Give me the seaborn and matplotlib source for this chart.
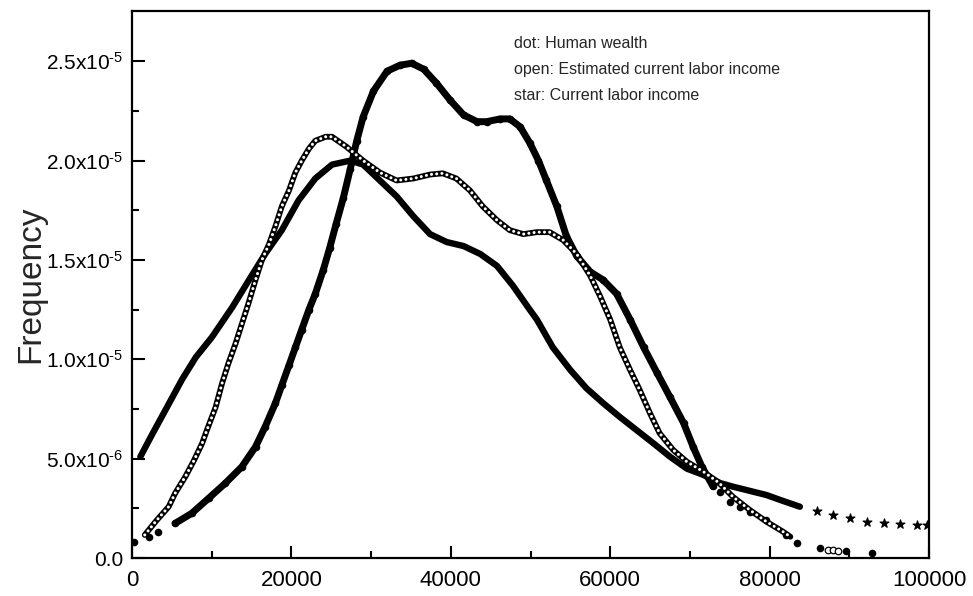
import numpy as np
import pandas as pd
import matplotlib
matplotlib.use("Agg")
import matplotlib.pyplot as plt
import seaborn as sns

# values (x in thousands, y in units of 1e-6)
dot_x = [0.2, 2.1, 3.3, 5.4, 7.5, 9.6, 11.7, 13.8, 15.5, 16.7, 18.0, 18.8, 19.7, 20.5, 21.3,
         22.2, 23.0, 24.0, 24.8, 25.6, 26.5, 27.4, 28.2, 29.0, 30.3, 32.0, 33.6, 35.1, 36.6,
         38.2, 39.9, 41.6, 43.3, 44.5, 46.2, 47.4, 48.7, 49.9, 51.0, 52.0, 53.3, 54.5, 55.8,
         57.5, 59.1, 60.8, 62.5, 64.2, 65.9, 67.5, 69.2, 70.4, 71.5, 72.9, 73.8, 75.0, 76.3,
         77.5, 79.6, 82.1, 83.4, 86.3, 89.6, 92.9]
dot_y = [0.82, 1.07, 1.32, 1.74, 2.25, 3.0, 3.76, 4.6, 5.6, 6.6, 7.8, 8.7, 9.7, 10.6, 11.5,
         12.5, 13.3, 14.5, 15.6, 16.8, 18.1, 19.6, 21.0, 22.2, 23.5, 24.5, 24.8, 24.9, 24.6,
         23.9, 23.05, 22.3, 21.96, 21.96, 22.1, 22.1, 21.7, 20.9, 20.0, 19.0, 17.7, 16.2, 15.2,
         14.4, 14.0, 13.3, 12.0, 10.6, 9.3, 8.1, 6.8, 5.6, 4.6, 3.6, 3.3, 2.8, 2.58,
         2.33, 1.91, 1.16, 0.77, 0.49, 0.37, 0.24]

open_x = [1.6, 3.1, 4.6, 5.4, 6.7, 7.7, 8.8, 9.4, 10.5, 11.3, 12.1, 13.0, 13.8, 14.6, 15.5,
          16.3, 17.2, 18.0, 18.8, 19.7, 20.5, 21.3, 22.2, 23.0, 24.3, 25.1, 26.9, 29.0, 31.1,
          33.2, 35.3, 37.4, 39.0, 40.7, 42.4, 44.0, 45.8, 47.4, 49.1, 50.8, 52.4, 54.1, 55.8,
          57.5, 58.7, 60.0, 61.2, 62.5, 63.7, 65.0, 66.2, 67.9, 69.6, 71.7, 73.6, 75.4, 77.5,
          79.6, 81.7, 82.6, 87.3, 88.0, 88.6]
open_y = [1.16, 1.9, 2.58, 3.25, 4.1, 4.85, 5.77, 6.44, 7.6, 8.79, 9.8, 10.8, 11.8, 12.8, 14.0,
          15.0, 15.8, 16.7, 17.7, 18.5, 19.4, 20.0, 20.6, 21.0, 21.2, 21.2, 20.7, 20.0, 19.4,
          19.0, 19.1, 19.3, 19.36, 19.1, 18.5, 17.7, 17.0, 16.5, 16.3, 16.4, 16.4, 16.0, 15.3,
          14.2, 13.2, 12.0, 10.6, 9.46, 8.46, 7.28, 6.28, 5.44, 4.85, 4.34, 3.8, 3.08, 2.42,
          1.83, 1.32, 1.07, 0.4, 0.38, 0.35]

star_x = [1.05, 2.5, 4.2, 6.3, 8.0, 10.0, 12.55, 15.0, 16.7, 18.8, 20.9, 23.0, 25.1, 27.4,
          29.0, 31.1, 33.2, 35.3, 37.4, 39.5, 41.6, 43.7, 45.8, 47.8, 49.9, 50.8, 52.8, 55.0,
          57.0, 59.1, 61.2, 63.3, 65.4, 67.5, 69.6, 71.7, 73.8, 75.4, 77.5, 79.6, 81.7, 83.8,
          85.9, 88.0, 90.1, 92.2, 94.3, 96.4, 98.5, 99.7]
star_y = [5.1, 6.2, 7.45, 9.0, 10.1, 11.1, 12.6, 14.2, 15.3, 16.5, 18.0, 19.1, 19.8, 20.0,
          19.8, 19.0, 18.2, 17.2, 16.3, 15.9, 15.7, 15.3, 14.7, 13.7, 12.5, 12.0, 10.6, 9.46,
          8.55, 7.8, 7.1, 6.44, 5.78, 5.1, 4.5, 4.18, 3.77, 3.59, 3.38, 3.17, 2.87, 2.58,
          2.37, 2.16, 2.0, 1.83, 1.77, 1.71, 1.68, 1.66]

legend_lines = ["dot: Human wealth",
                "open: Estimated current labor income",
                "star: Current labor income"]
ytick_vals = [0, 5e-6, 1e-5, 1.5e-5, 2e-5, 2.5e-5]
ytick_labels = ["0.0", r"5.0x10$^{\text{-6}}$", r"1.0x10$^{\text{-5}}$", r"1.5x10$^{\text{-5}}$",
                r"2.0x10$^{\text{-5}}$", r"2.5x10$^{\text{-5}}$"]
xtick_vals = [0, 20000, 40000, 60000, 80000, 100000]

def frame(xs, ys):
    return pd.DataFrame({"x": np.array(xs) * 1000, "y": np.array(ys) * 1e-6})

dot = frame(dot_x, dot_y)
opn = frame(open_x, open_y)
star = frame(star_x, star_y)

sns.set_style("ticks")
plt.rcParams["font.family"] = ["Liberation Sans", "DejaVu Sans"]
plt.rcParams["mathtext.fontset"] = "custom"
plt.rcParams["mathtext.rm"] = "Liberation Sans"
plt.rcParams["mathtext.default"] = "regular"

fig = plt.figure(figsize=(9.73, 5.96), dpi=100)
ax = fig.add_axes([132 / 973, 1 - 558 / 596, (929 - 132) / 973, (558 - 11) / 596])

# star: current labor income
star_body = star[star.x <= 84000]
sns.lineplot(data=star_body, x="x", y="y", color="black", lw=4.6, sort=False,
             estimator=None, ax=ax)
sns.scatterplot(data=star[star.x > 84000], x="x", y="y", marker="*", s=45, color="black",
                edgecolor="black", linewidth=0.8, ax=ax, zorder=3)

# dot: human wealth
dot_body = dot[(dot.x >= 5000) & (dot.x <= 73000)]
sns.lineplot(data=dot_body, x="x", y="y", color="black", lw=5, sort=False,
             estimator=None, ax=ax)
sns.scatterplot(data=dot, x="x", y="y", marker="o", s=30, color="black",
                edgecolor="black", linewidth=0, ax=ax, zorder=3)

# open: estimated current labor income (chain of open circles)
open_body = opn[opn.x <= 83000]
sns.lineplot(data=open_body, x="x", y="y", color="black", lw=4.2, sort=False,
             estimator=None, ax=ax, zorder=4)
sns.lineplot(data=open_body, x="x", y="y", color="white", lw=2.2, sort=False,
             estimator=None, ax=ax, zorder=5, linestyle=(0, (0.01, 1.7)),
             dash_capstyle="round")
sns.scatterplot(data=opn[opn.x > 83000], x="x", y="y", marker="o", s=22,
                facecolor="white", edgecolor="black", linewidth=0.9, ax=ax, zorder=5)

ax.set_xlim(0, 100000)
ax.set_ylim(0, 27.53e-6)
ax.set_xticks(xtick_vals)
ax.set_xticklabels([str(v) for v in xtick_vals])
ax.set_xticks(np.arange(10000, 100000, 20000), minor=True)
ax.set_yticks(ytick_vals)
ax.set_yticklabels(ytick_labels)
ax.set_yticks(np.arange(2.5e-6, 27.5e-6, 5e-6), minor=True)
ax.tick_params(which="both", direction="in", width=1.5, colors="black")
ax.tick_params(which="major", length=9)
ax.tick_params(which="minor", length=5)
ax.tick_params(axis="x", pad=9, labelsize=16)
ax.tick_params(axis="y", pad=6, labelsize=15)
for sp in ax.spines.values():
    sp.set_visible(True)
    sp.set_linewidth(1.6)
    sp.set_color("black")

ax.set_xlabel("")
ax.set_ylabel("Frequency", fontsize=24)
ax.yaxis.set_label_coords(-0.108, 0.5)

for i, t in enumerate(legend_lines):
    ax.text(514 / 973, 1 - (43 + 26.5 * i) / 596, t, transform=fig.transFigure,
            fontsize=11.5, va="center", ha="left")

fig.savefig("out.png", dpi=100)
